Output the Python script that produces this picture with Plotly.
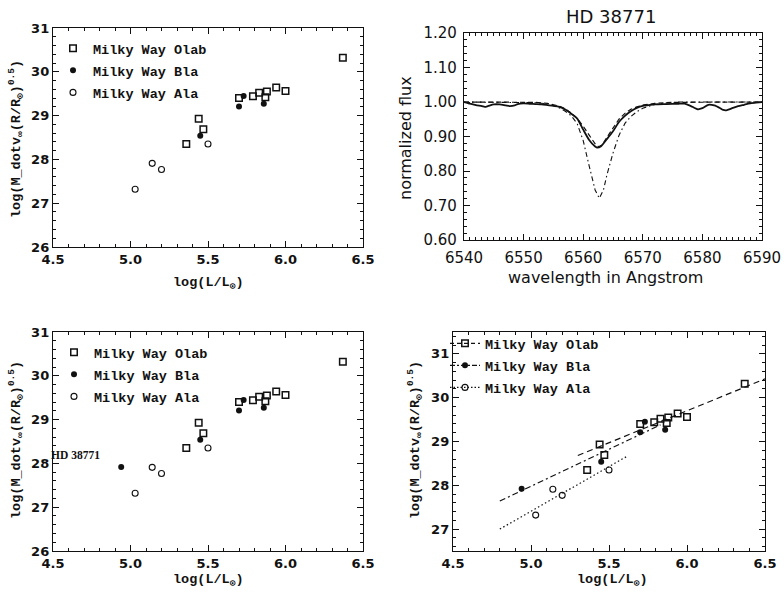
import plotly.graph_objects as go

W, H = 784, 596

# ---- wind momentum vs luminosity (Milky Way supergiants) ----
olab_lum = [5.36, 5.44, 5.47, 5.70, 5.79, 5.83, 5.87, 5.88, 5.94, 6.00, 6.37]
olab_mom = [28.35, 28.93, 28.69, 29.40, 29.44, 29.52, 29.42, 29.55, 29.64, 29.56, 30.32]
bla_lum = [5.45, 5.70, 5.73, 5.86]
bla_mom = [28.54, 29.21, 29.45, 29.27]
ala_lum = [5.03, 5.14, 5.20, 5.50]
ala_mom = [27.32, 27.91, 27.77, 28.35]
hd_lum = [4.94]
hd_mom = [27.92]
hd_name = "HD 38771"

# regression lines (start / end points)
fit_olab_x = [5.30, 6.50]
fit_olab_y = [28.68, 30.43]
fit_bla_x = [4.80, 5.83]
fit_bla_y = [27.64, 29.38]
fit_ala_x = [4.80, 5.61]
fit_ala_y = [27.00, 28.65]

# ---- H-alpha profile of HD 38771 ----
obs_wl = [6540, 6541, 6542, 6543, 6543.5, 6544, 6545, 6546, 6547, 6547.7, 6548.5, 6549, 6550, 6551,
          6552, 6553, 6554, 6555, 6556, 6557, 6558, 6559, 6560, 6561, 6562, 6562.3, 6563, 6564,
          6565, 6566, 6567, 6568, 6569, 6570, 6571, 6572, 6574, 6576, 6577, 6578, 6579.2, 6580,
          6581, 6582, 6583, 6583.5, 6584, 6585, 6586, 6587, 6588, 6589, 6590]
obs_flux = [1.000, 0.995, 0.991, 0.988, 0.986, 0.988, 0.993, 0.993, 0.990, 0.988, 0.990, 0.994, 0.996, 0.995,
            0.994, 0.993, 0.991, 0.989, 0.986, 0.978, 0.966, 0.952, 0.920, 0.890, 0.871, 0.868, 0.872, 0.893,
            0.915, 0.942, 0.960, 0.973, 0.983, 0.989, 0.991, 0.993, 0.994, 0.995, 0.995, 0.989, 0.979, 0.982,
            0.992, 0.990, 0.982, 0.977, 0.976, 0.982, 0.988, 0.992, 0.996, 0.998, 1.000]
mod1_wl = [6540, 6550, 6552, 6554, 6555, 6556, 6557, 6558, 6559, 6560, 6561, 6562, 6562.6, 6563.2,
           6564, 6565, 6566, 6567, 6568, 6569, 6570, 6572, 6575, 6590]
mod1_flux = [1.000, 1.000, 0.999, 0.996, 0.993, 0.988, 0.980, 0.968, 0.952, 0.930, 0.904, 0.879, 0.870, 0.876,
             0.898, 0.926, 0.950, 0.967, 0.979, 0.986, 0.991, 0.996, 0.999, 1.000]
mod2_wl = [6540, 6550, 6552, 6554, 6555, 6556, 6557, 6558, 6559, 6560, 6561, 6562, 6562.7, 6563.4,
           6564, 6565, 6566, 6567, 6568, 6569, 6570, 6571, 6572, 6574, 6576, 6590]
mod2_flux = [1.000, 1.000, 0.998, 0.995, 0.990, 0.983, 0.973, 0.960, 0.937, 0.888, 0.815, 0.745, 0.721, 0.745,
             0.790, 0.852, 0.903, 0.938, 0.958, 0.972, 0.982, 0.988, 0.993, 0.997, 1.000, 1.000]

lum_ticks = [4.5, 5.0, 5.5, 6.0, 6.5]
mom_ticks = [26, 27, 28, 29, 30, 31]
mom_ticks_fit = [27, 28, 29, 30, 31]
wl_ticks = [6540, 6550, 6560, 6570, 6580, 6590]
flux_ticks = [0.60, 0.70, 0.80, 0.90, 1.00, 1.10, 1.20]

series_names = ["Milky Way Olab", "Milky Way Bla", "Milky Way Ala"]

MONO = "Liberation Mono, Courier New, monospace"
SERIF = "Liberation Serif, serif"
SANS = "DejaVu Sans"
INK = "#111111"


def px_x(p):
    return p / W


def px_y(p):
    return 1 - p / H


fig = go.Figure()

sym_olab = dict(symbol="square-open", size=6.5, color=INK, line=dict(width=1.5, color=INK))
sym_bla = dict(symbol="circle", size=6, color=INK, line=dict(width=0))
sym_ala = dict(symbol="circle-open", size=6, color=INK, line=dict(width=1.1, color=INK))


def add_points(xa, ya, legend, with_hd, show_legend):
    fig.add_trace(go.Scatter(x=olab_lum, y=olab_mom, mode="markers", marker=sym_olab,
                             name=series_names[0], xaxis=xa, yaxis=ya, legend=legend,
                             legendgroup=legend + "a", showlegend=show_legend))
    bx = bla_lum + (hd_lum if with_hd else [])
    by = bla_mom + (hd_mom if with_hd else [])
    fig.add_trace(go.Scatter(x=bx, y=by, mode="markers", marker=sym_bla,
                             name=series_names[1], xaxis=xa, yaxis=ya, legend=legend,
                             legendgroup=legend + "b", showlegend=show_legend))
    fig.add_trace(go.Scatter(x=ala_lum, y=ala_mom, mode="markers", marker=sym_ala,
                             name=series_names[2], xaxis=xa, yaxis=ya, legend=legend,
                             legendgroup=legend + "c", showlegend=show_legend))


# top-left panel
add_points("x", "y", "legend", False, True)
# bottom-left panel (with HD 38771)
add_points("x3", "y3", "legend2", True, True)
# bottom-right panel with fits
add_points("x4", "y4", "legend3", True, False)
fig.add_trace(go.Scatter(x=fit_olab_x, y=fit_olab_y, mode="lines", xaxis="x4", yaxis="y4",
                         line=dict(color=INK, width=1.2, dash="6px,4px"), showlegend=False))
fig.add_trace(go.Scatter(x=fit_bla_x, y=fit_bla_y, mode="lines", xaxis="x4", yaxis="y4",
                         line=dict(color=INK, width=1.2, dash="6px,3px,2px,3px"), showlegend=False))
fig.add_trace(go.Scatter(x=fit_ala_x, y=fit_ala_y, mode="lines", xaxis="x4", yaxis="y4",
                         line=dict(color=INK, width=1.2, dash="1.5px,2.5px"), showlegend=False))
# legend entries for the fit panel (symbol + line style)
for nm, sym, dsh, grp in [(series_names[0], sym_olab, "4px,3px", "a"),
                          (series_names[1], sym_bla, "5px,2px,2px,2px", "b"),
                          (series_names[2], sym_ala, "1.5px,2px", "c")]:
    fig.add_trace(go.Scatter(x=[None], y=[None], mode="lines+markers", marker=sym,
                             line=dict(color=INK, width=1.2, dash=dsh), name=nm,
                             xaxis="x4", yaxis="y4", legend="legend3", legendgroup="f" + grp))

# top-right panel: spectrum
fig.add_trace(go.Scatter(x=mod2_wl, y=mod2_flux, mode="lines", xaxis="x2", yaxis="y2",
                         line=dict(color=INK, width=1.1, dash="5px,3px,1.5px,3px"), showlegend=False))
fig.add_trace(go.Scatter(x=mod1_wl, y=mod1_flux, mode="lines", xaxis="x2", yaxis="y2",
                         line=dict(color=INK, width=1.2, dash="5px,3px"), showlegend=False))
fig.add_trace(go.Scatter(x=obs_wl, y=obs_flux, mode="lines", xaxis="x2", yaxis="y2",
                         line=dict(color=INK, width=1.8, shape="spline", smoothing=0.6), showlegend=False))


def frame_axis(**kw):
    base = dict(showline=True, linecolor=INK, linewidth=1.4, mirror="allticks",
                ticks="inside", ticklen=6, tickwidth=1.2, tickcolor=INK,
                showgrid=False, zeroline=False, fixedrange=True, automargin=False)
    base.update(kw)
    return base


tick_font_b = dict(family=SANS, size=13, color=INK, weight="bold")
tick_font_r = dict(family=SANS, size=15, color=INK)

dom_l = [px_x(53), px_x(363)]
dom_r_top = [px_x(464), px_x(762)]
dom_r_bot = [px_x(453), px_x(765)]
dom_top = [px_y(247), px_y(28)]
dom_top_r = [px_y(240), px_y(33)]
dom_bot = [px_y(551), px_y(332)]

minor_lum = dict(dtick=0.1, ticklen=3, tickcolor=INK, ticks="inside")
minor_mom = dict(dtick=0.2, ticklen=3, tickcolor=INK, ticks="inside")

fig.update_layout(
    width=W, height=H, margin=dict(l=0, r=0, t=0, b=0, pad=0, autoexpand=False),
    paper_bgcolor="white", plot_bgcolor="white",
    xaxis=frame_axis(domain=dom_l, range=[4.5, 6.5], tickvals=lum_ticks, tickformat=".1f",
                     tickfont=tick_font_b, anchor="y", minor=minor_lum),
    yaxis=frame_axis(domain=dom_top, range=[26, 31], tickvals=mom_ticks, tickfont=tick_font_b,
                     anchor="x", minor=minor_mom),
    xaxis2=frame_axis(domain=dom_r_top, range=[6540, 6590], tickvals=wl_ticks, tickfont=tick_font_r,
                      anchor="y2", ticklabelstandoff=4,
                      minor=dict(dtick=1, ticklen=3, tickcolor=INK, ticks="inside")),
    yaxis2=frame_axis(domain=dom_top_r, range=[0.6, 1.2], tickvals=flux_ticks, tickformat=".2f",
                      tickfont=tick_font_r, anchor="x2", ticklabelstandoff=3,
                      minor=dict(dtick=0.02, ticklen=3, tickcolor=INK, ticks="inside")),
    xaxis3=frame_axis(domain=dom_l, range=[4.5, 6.5], tickvals=lum_ticks, tickformat=".1f",
                      tickfont=tick_font_b, anchor="y3", minor=minor_lum),
    yaxis3=frame_axis(domain=dom_bot, range=[26, 31], tickvals=mom_ticks, tickfont=tick_font_b,
                      anchor="x3", minor=minor_mom),
    xaxis4=frame_axis(domain=dom_r_bot, range=[4.5, 6.5], tickvals=lum_ticks, tickformat=".1f",
                      tickfont=tick_font_b, anchor="y4", minor=minor_lum),
    yaxis4=frame_axis(domain=dom_bot, range=[26.5, 31.5], tickvals=mom_ticks_fit, tickfont=tick_font_b,
                      anchor="x4", minor=minor_mom),
)

leg_font = dict(family=MONO, size=13.5, color=INK, weight="bold")
leg_common = dict(bgcolor="rgba(0,0,0,0)", borderwidth=0, font=leg_font, xanchor="left",
                  yanchor="top", tracegroupgap=1.5, itemclick=False, itemdoubleclick=False)
fig.update_layout(
    legend=dict(x=px_x(53), y=px_y(33), **leg_common),
    legend2=dict(x=px_x(54), y=px_y(337), **leg_common),
    legend3=dict(x=px_x(445), y=px_y(328), **leg_common),
)

title_font = dict(family=MONO, size=13.5, color=INK, weight="bold")
ylab = "log(M_dotv<sub>∞</sub>(R/R<sub>⊙</sub>)<sup>0.5</sup>)"
xlab = "log(L/L<sub>⊙</sub>)"

ann = []


def add_text(text, x, y, font, angle=0):
    ann.append(dict(text=text, x=px_x(x), y=px_y(y), xref="paper", yref="paper",
                    showarrow=False, xanchor="center", yanchor="middle", textangle=angle, font=font))


add_text(xlab, 208, 283, title_font)
add_text(ylab, 16, 139, title_font, -90)
add_text(xlab, 208, 580, title_font)
add_text(ylab, 16, 440, title_font, -90)
add_text(xlab, 612, 580, title_font)
add_text(ylab, 415, 440, title_font, -90)

add_text("HD 38771", 611, 17, dict(family=SANS, size=18, color=INK))
add_text("wavelength in Angstrom", 605, 278, dict(family=SANS, size=16, color=INK))
add_text("normalized flux", 406, 138, dict(family=SANS, size=16, color=INK), -90)

# label for the highlighted star in the bottom-left panel
ann.append(dict(text=hd_name, x=hd_lum[0], y=hd_mom[0], xref="x3", yref="y3", showarrow=False,
                xanchor="right", yanchor="middle", xshift=-19, yshift=12,
                font=dict(family=SERIF, size=11.5, color=INK, weight="bold")))

fig.update_layout(annotations=ann)

fig.write_html("out.html")
